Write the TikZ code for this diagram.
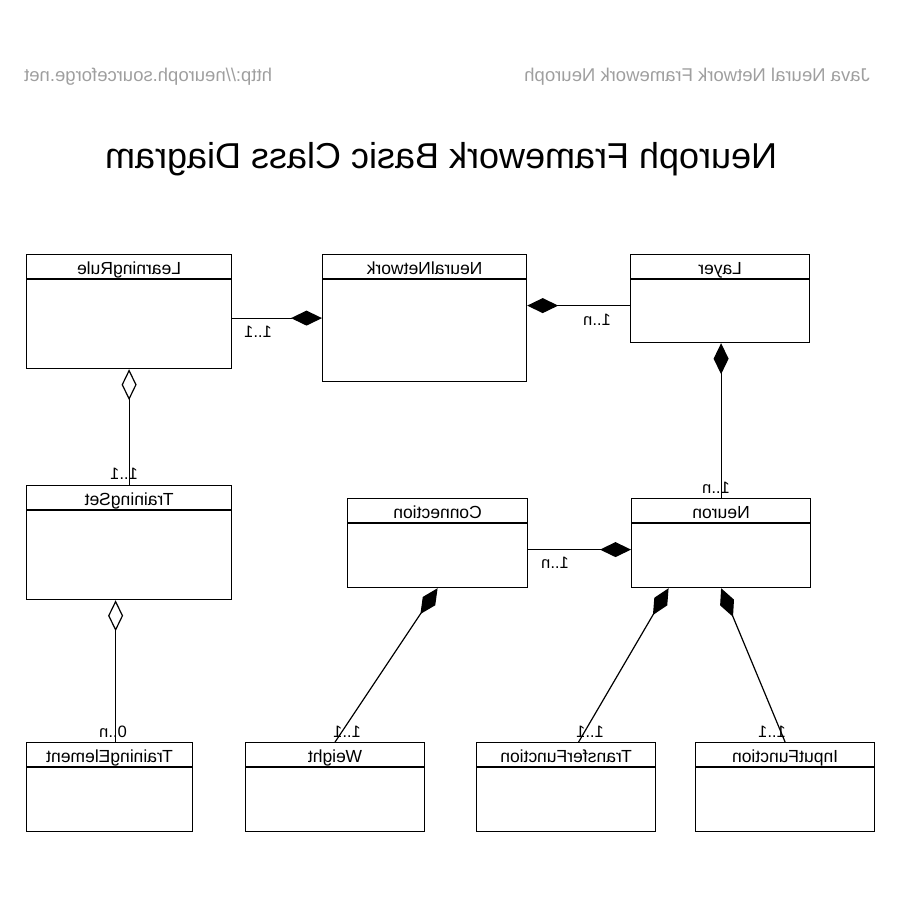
\documentclass[tikz,border=0pt]{standalone}
\usepackage{fontspec}
\setmainfont{Liberation Sans}
\usepackage{graphicx}
\usetikzlibrary{positioning, arrows.meta}

\begin{document}
\begin{tikzpicture}[
  x=1pt, y=-1pt,
  every node/.style={align=center, inner sep=0pt},
  classbox/.style={rectangle, draw=black, line width=1.2pt, anchor=north west},
  classname/.style={anchor=base, font=\fontsize{17.5}{20}\selectfont},
  mult/.style={anchor=base, font=\fontsize{16.5}{19}\selectfont},
  head/.style={anchor=base, font=\fontsize{18.5}{22}\selectfont, text=gray!75},
  title/.style={anchor=base, font=\fontsize{36}{40}\selectfont},
  comp/.style={{Diamond[length=31pt, width=15pt]}-, line width=1.2pt},
  aggr/.style={{Diamond[open, length=31pt, width=15pt, fill=white]}-, line width=1.2pt}
]

\useasboundingbox (0,0) rectangle (900,900);

% Header and title
\node[head, anchor=base west] (site) at (24,81) {\reflectbox{http://neuroph.sourceforge.net}};
\node[head, anchor=base east] (frame) at (870,81) {\reflectbox{Java Neural Network Framework Neuroph}};
\node[title] (title) at (441,168) {\reflectbox{Neuroph Framework Basic Class Diagram}};

% Class boxes
\node[classbox, minimum width=205pt, minimum height=114pt] (lrule) at (26,254) {};
\node[classbox, minimum width=204pt, minimum height=127pt] (nnet) at (322,254) {};
\node[classbox, minimum width=179pt, minimum height=88pt] (layer) at (630,254) {};
\node[classbox, minimum width=205pt, minimum height=114pt] (tset) at (26,485) {};
\node[classbox, minimum width=180pt, minimum height=89pt] (conn) at (347,498) {};
\node[classbox, minimum width=179pt, minimum height=89pt] (neuron) at (631,498) {};
\node[classbox, minimum width=166pt, minimum height=89pt] (telem) at (26,742) {};
\node[classbox, minimum width=179pt, minimum height=89pt] (weight) at (245,742) {};
\node[classbox, minimum width=179pt, minimum height=89pt] (tfunc) at (476,742) {};
\node[classbox, minimum width=179pt, minimum height=89pt] (ifunc) at (695,742) {};

% Header lines
\foreach \c in {lrule, nnet, layer, tset, conn, neuron, telem, weight, tfunc, ifunc}
  \draw[line width=1.2pt] ([yshift=-25pt]\c.north west) -- ([yshift=-25pt]\c.north east);

% Class names
\node[classname] (lrulet) at ([yshift=-20pt]lrule.north) {\reflectbox{LearningRule}};
\node[classname] (nnett) at ([yshift=-20pt]nnet.north) {\reflectbox{NeuralNetwork}};
\node[classname] (layert) at ([yshift=-20pt]layer.north) {\reflectbox{Layer}};
\node[classname] (tsett) at ([yshift=-20pt]tset.north) {\reflectbox{TrainingSet}};
\node[classname] (connt) at ([yshift=-20pt]conn.north) {\reflectbox{Connection}};
\node[classname] (neuront) at ([yshift=-20pt]neuron.north) {\reflectbox{Neuron}};
\node[classname] (telemt) at ([yshift=-20pt]telem.north) {\reflectbox{TrainingElement}};
\node[classname] (weightt) at ([yshift=-20pt]weight.north) {\reflectbox{Weight}};
\node[classname] (tfunct) at ([yshift=-20pt]tfunc.north) {\reflectbox{TransferFunction}};
\node[classname] (ifunct) at ([yshift=-20pt]ifunc.north) {\reflectbox{InputFunction}};

% Link points
\coordinate (nlink) at ([yshift=-7pt]layer.west);
\coordinate (clink) at ([yshift=-6.5pt]neuron.west);
\coordinate (tlink) at ([xshift=6pt]telem.north);
\coordinate (tfup) at ([xshift=-52.5pt]neuron.south);
\coordinate (tfdown) at ([xshift=12.5pt]tfunc.north);

% Associations
\draw[comp] (nnet.west) -- (nnet.west -| lrule.east);
\draw[comp] (nnet.east |- nlink) -- (nlink);
\draw[aggr] (lrule.south) -- (tset.north);
\draw[aggr] (tset.south -| tlink) -- (tlink);
\draw[comp] (layer.south -| neuron.north) -- (neuron.north);
\draw[comp] (clink) -- (clink -| conn.east);
\draw[comp] (conn.south) -- (weight.north);
\draw[comp] (tfup) -- (tfdown);
\draw[comp] (neuron.south) -- (ifunc.north);

% Multiplicities
\node[mult] (m1) at (258,337) {\reflectbox{1..1}};
\node[mult] (m2) at (597,325) {\reflectbox{1..n}};
\node[mult] (m3) at (124,479) {\reflectbox{1..1}};
\node[mult] (m4) at (716,493) {\reflectbox{1..n}};
\node[mult] (m5) at (555,568) {\reflectbox{1..n}};
\node[mult] (m6) at (113,737) {\reflectbox{0..n}};
\node[mult] (m7) at (347,737) {\reflectbox{1..1}};
\node[mult] (m8) at (590,737) {\reflectbox{1..1}};
\node[mult] (m9) at (772,737) {\reflectbox{1..1}};

\end{tikzpicture}
\end{document}
